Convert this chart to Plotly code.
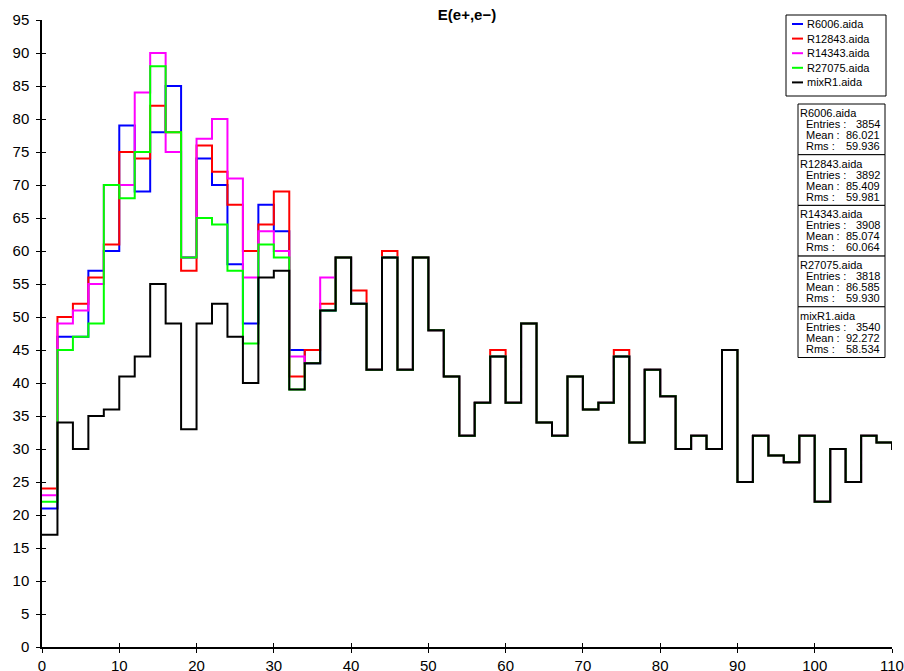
import numpy as np
import plotly.graph_objects as go

# ---------------- data ----------------
bin_edges = np.arange(0, 114, 2)  # 2-unit bins; the last bin (110-112) lies past the axis end

names = ["R6006.aida", "R12843.aida", "R14343.aida", "R27075.aida", "mixR1.aida"]
colors = ["#0000ff", "#ff0000", "#ff00ff", "#00ff00", "#000000"]

r6006 = [21, 47, 47, 57, 60, 79, 69, 78, 85, 59, 74, 70, 58, 49, 67, 63, 45, 43, 51,
         59, 52, 42, 59, 42, 59, 48, 41, 32, 37, 44, 37, 49, 34, 32, 41, 36, 37, 44,
         31, 42, 38, 30, 32, 30, 45, 25, 32, 29, 28, 32, 22, 30, 25, 32, 31, 30]
r12843 = [24, 50, 52, 56, 61, 75, 74, 82, 78, 57, 76, 72, 67, 60, 64, 69, 41, 45, 52,
          59, 54, 42, 60, 42, 59, 48, 41, 32, 37, 45, 37, 49, 34, 32, 41, 36, 37, 45,
          31, 42, 38, 30, 32, 30, 45, 25, 32, 29, 28, 32, 22, 30, 25, 32, 31, 30]
r14343 = [23, 49, 51, 55, 70, 70, 84, 90, 75, 59, 77, 80, 71, 56, 63, 60, 44, 43, 56,
          59, 52, 42, 59, 42, 59, 48, 41, 32, 37, 44, 37, 49, 34, 32, 41, 36, 37, 44,
          31, 42, 38, 30, 32, 30, 45, 25, 32, 29, 28, 32, 22, 30, 25, 32, 31, 30]
r27075 = [22, 45, 47, 49, 70, 68, 75, 88, 78, 59, 65, 64, 57, 46, 61, 59, 39, 43, 51,
          59, 52, 42, 59, 42, 59, 48, 41, 32, 37, 44, 37, 49, 34, 32, 41, 36, 37, 44,
          31, 42, 38, 30, 32, 30, 45, 25, 32, 29, 28, 32, 22, 30, 25, 32, 31, 30]
mixr1 = [17, 34, 30, 35, 36, 41, 44, 55, 49, 33, 49, 52, 47, 40, 56, 57, 39, 43, 51,
         59, 52, 42, 59, 42, 59, 48, 41, 32, 37, 44, 37, 49, 34, 32, 41, 36, 37, 44,
         31, 42, 38, 30, 32, 30, 45, 25, 32, 29, 28, 32, 22, 30, 25, 32, 31, 30]

entries = [3854, 3892, 3908, 3818, 3540]
means = [86.021, 85.409, 85.074, 86.585, 92.272]
rms = [59.936, 59.981, 60.064, 59.930, 58.534]

series = [r6006, r12843, r14343, r27075, mixr1]

title_text = "E(e+,e−)"
x_range = [0, 110]
y_range = [0, 95]

# ---------------- layout helpers (pixel -> paper) ----------------
W, H = 904, 671
L, R, T, B = 42, 12, 20, 24
PW, PH = W - L - R, H - T - B


def fx(px):
    return (px - L) / PW


def fy(py):
    return (H - B - py) / PH


FONT = "Liberation Sans, Arial, Helvetica, sans-serif"

fig = go.Figure()

for name, color, vals in zip(names, colors, series):
    y = list(vals) + [vals[-1]]
    fig.add_trace(go.Scatter(
        x=bin_edges, y=y, mode="lines", name=name,
        line=dict(color=color, width=2, shape="hv"),
        showlegend=False, hoverinfo="skip",
    ))

# invisible trace carrying the overlay axes (inner half of crossing ticks)
fig.add_trace(go.Scatter(x=[None], y=[None], xaxis="x2", yaxis="y2",
                         showlegend=False, hoverinfo="skip"))

axis_common = dict(showgrid=False, zeroline=False, showline=True, linecolor="black",
                   linewidth=1.5, ticks="outside", ticklen=4, tickwidth=1,
                   tickcolor="black", automargin=False,
                   tickfont=dict(family=FONT, size=15, color="black"))
overlay_common = dict(showgrid=False, zeroline=False, showline=False, ticks="inside",
                      ticklen=4, tickwidth=1, tickcolor="black", showticklabels=False,
                      automargin=False)

fig.update_layout(
    width=W, height=H, autosize=False,
    margin=dict(l=L, r=R, t=T, b=B),
    paper_bgcolor="white", plot_bgcolor="white",
    xaxis=dict(range=x_range, dtick=10, tick0=0, **axis_common),
    yaxis=dict(range=y_range, dtick=5, tick0=0, ticklabelstandoff=4, **axis_common),
    xaxis2=dict(range=x_range, dtick=10, tick0=0, overlaying="x", anchor="y2", **overlay_common),
    yaxis2=dict(range=y_range, dtick=5, tick0=0, overlaying="y", anchor="x2", **overlay_common),
    title=dict(text="<b>" + title_text + "</b>", x=fx(467), xref="paper", xanchor="center",
               y=1 - 15 / H, yref="container", yanchor="middle",
               font=dict(family=FONT, size=15, color="black")),
    showlegend=False,
)

shapes = []
annotations = []


def txt(text, x, y, anchor="left"):
    return dict(text=text, xref="paper", yref="paper", x=fx(x), y=fy(y),
                xanchor=anchor, yanchor="middle", showarrow=False, borderpad=0,
                font=dict(family=FONT, size=11, color="black"))


# custom legend box
lg_x0, lg_x1, lg_y0, lg_y1 = 786, 886, 15, 96
shapes.append(dict(type="rect", xref="paper", yref="paper", x0=fx(lg_x0), x1=fx(lg_x1),
                   y0=fy(lg_y1), y1=fy(lg_y0), line=dict(color="black", width=1),
                   fillcolor="white", layer="above"))
for i, (name, color) in enumerate(zip(names, colors)):
    yy = 24 + i * 14.6
    shapes.append(dict(type="line", xref="paper", yref="paper", x0=fx(792), x1=fx(803),
                       y0=fy(yy), y1=fy(yy), line=dict(color=color, width=2), layer="above"))
    annotations.append(txt(name, 806, yy))

# statistics boxes
bx0, bx1 = 798, 885
top0, bh = 104, 50.7
for i, name in enumerate(names):
    top = top0 + i * bh
    shapes.append(dict(type="rect", xref="paper", yref="paper", x0=fx(bx0), x1=fx(bx1),
                       y0=fy(top + bh), y1=fy(top), line=dict(color="black", width=1),
                       fillcolor="white", layer="above"))
    annotations.append(txt(name, 799, top + 9))
    rows = [("Entries :", f"{entries[i]}"), ("Mean :", f"{means[i]:.3f}"),
            ("Rms :", f"{rms[i]:.3f}")]
    for j, (lab, val) in enumerate(rows):
        yy = top + 20 + j * 11
        annotations.append(txt(lab, 805, yy))
        annotations.append(txt(val, 881, yy, anchor="right"))

fig.update_layout(shapes=shapes, annotations=annotations)

fig.write_html("out.html", config={"displayModeBar": False},
               post_script="document.body.style.margin='0';document.body.style.overflow='hidden';")
